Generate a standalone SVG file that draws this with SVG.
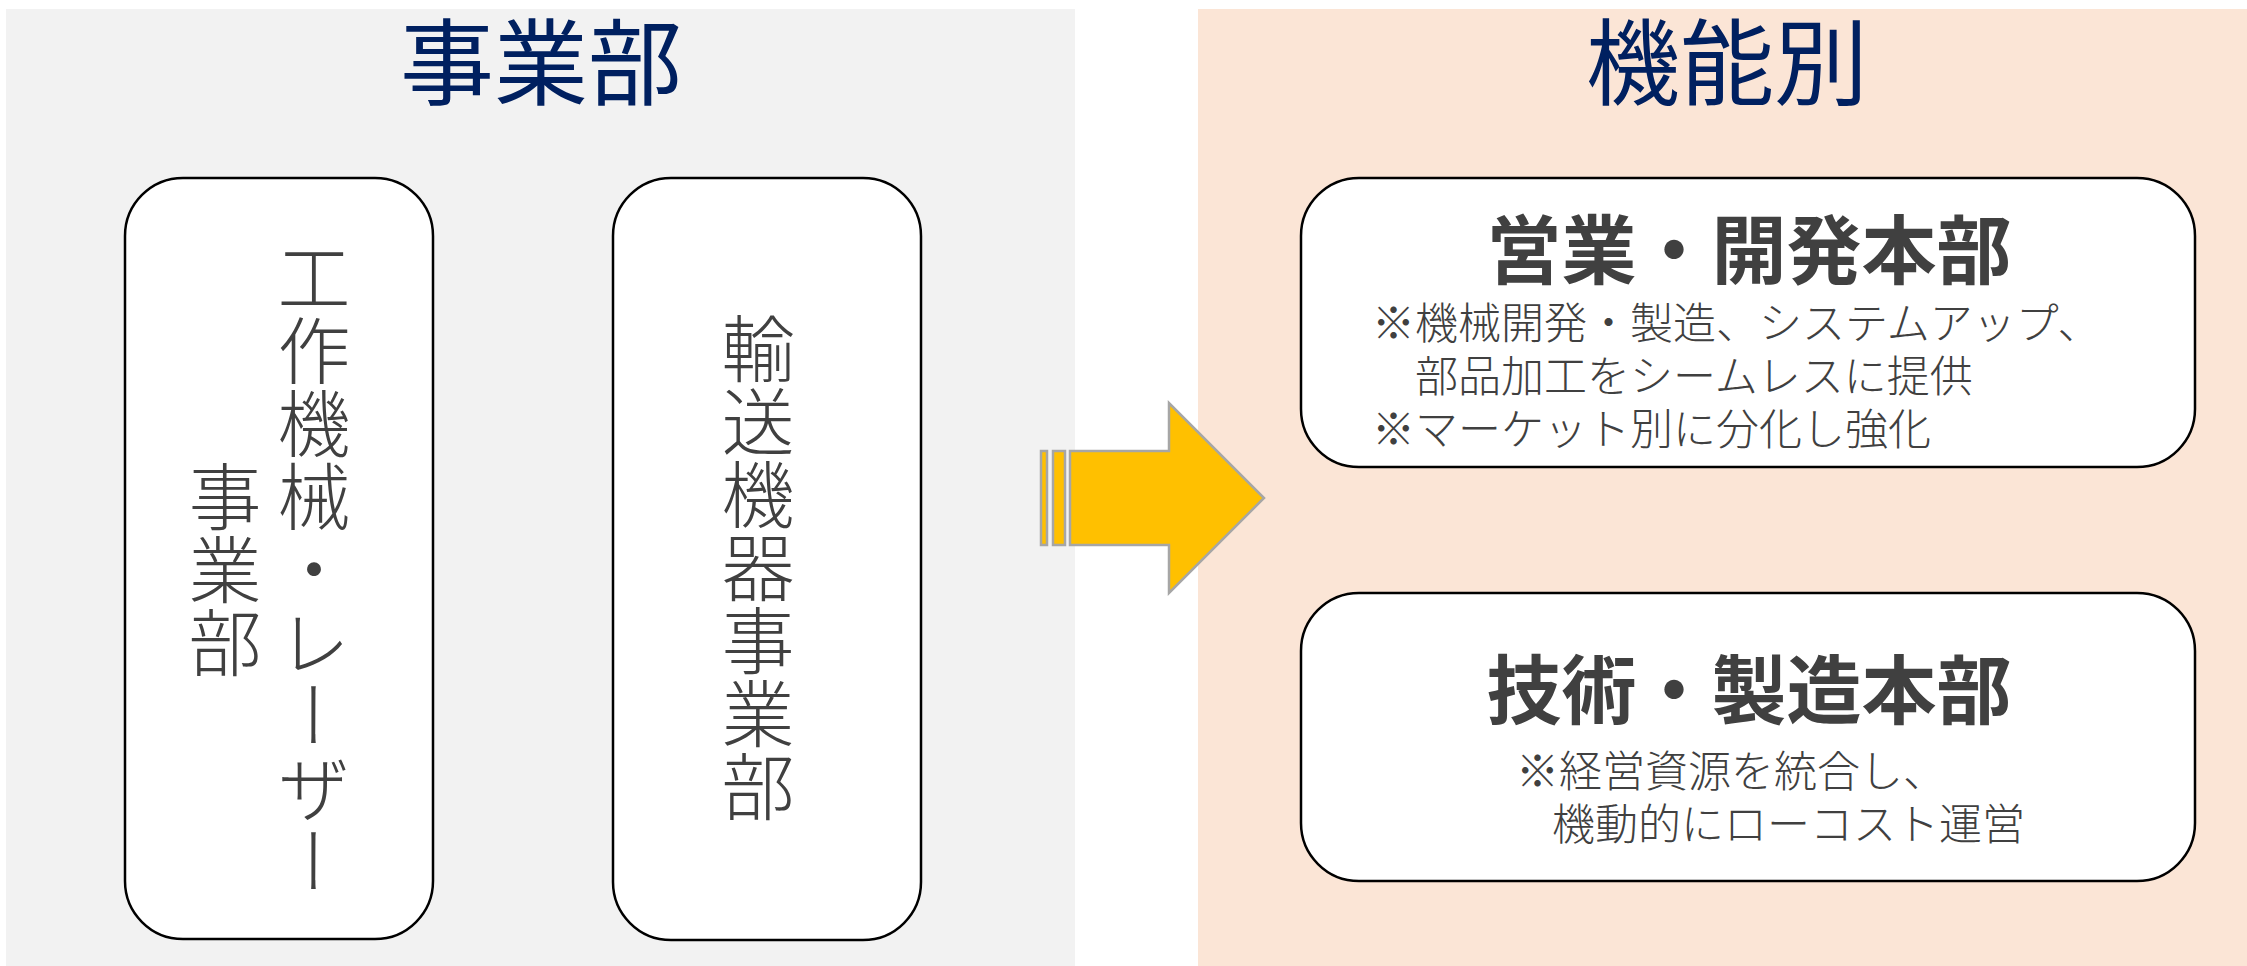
<svg xmlns="http://www.w3.org/2000/svg" width="2247" height="966" viewBox="0 0 2247 966">
<style>
.panelL{fill:#F2F2F2}
.panelR{fill:#FBE5D6}
.title{font-family:"Noto Sans CJK JP","Noto Sans CJK SC",sans-serif;font-size:94px;fill:#002060;text-anchor:middle}
.box{fill:#FFFFFF;stroke:#000000;stroke-width:2.5}
.vt{font-family:"Noto Sans CJK JP","Noto Sans CJK SC",sans-serif;font-size:73px;font-weight:300;fill:#404040;writing-mode:vertical-rl;text-anchor:middle}
.h1{font-family:"Noto Sans CJK JP","Noto Sans CJK SC",sans-serif;font-size:75px;font-weight:700;fill:#404040;text-anchor:middle}
.sub{font-family:"Noto Sans CJK JP","Noto Sans CJK SC",sans-serif;font-size:43px;font-weight:300;fill:#404040}
.arrow{fill:#FFC000;stroke:#A6A6A6;stroke-width:2.5}
</style>
<rect width="2247" height="966" fill="#FFFFFF"/>
<rect class="panelL" x="6" y="9" width="1069" height="957"/>
<rect class="panelR" x="1198" y="9" width="1049" height="957"/>
<text class="title" x="541" y="98">事業部</text>
<text class="title" x="1727" y="98">機能別</text>
<g id="node-kosaku">
<rect class="box" x="125" y="178" width="308" height="761" rx="58" ry="58"/>
<text class="vt" x="314" y="569">工作機械・レーザー</text>
<text class="vt" x="225" y="569">事業部</text>
</g>
<g id="node-yuso">
<rect class="box" x="613" y="178" width="308" height="762" rx="58" ry="58"/>
<text class="vt" x="758" y="567">輸送機器事業部</text>
</g>
<g id="connectors">
<rect class="arrow" x="1041" y="451" width="6" height="94"/>
<rect class="arrow" x="1053" y="451" width="12" height="94"/>
<path class="arrow" d="M1070 451 H1169 V403 L1264 498 L1169 593 V545 H1070 Z"/>
</g>
<g id="node-eigyo">
<rect class="box" x="1301" y="178" width="894" height="289" rx="58" ry="58"/>
<text class="h1" x="1749" y="278">営業・開発本部</text>
<text class="sub" x="1372" y="339">※機械開発・製造、システムアップ、</text>
<text class="sub" x="1415" y="392">部品加工をシームレスに提供</text>
<text class="sub" x="1372" y="445">※マーケット別に分化し強化</text>
</g>
<g id="node-gijutsu">
<rect class="box" x="1301" y="593" width="894" height="288" rx="58" ry="58"/>
<text class="h1" x="1749" y="718">技術・製造本部</text>
<text class="sub" x="1516" y="787">※経営資源を統合し、</text>
<text class="sub" x="1552" y="840">機動的にローコスト運営</text>
</g>
</svg>
